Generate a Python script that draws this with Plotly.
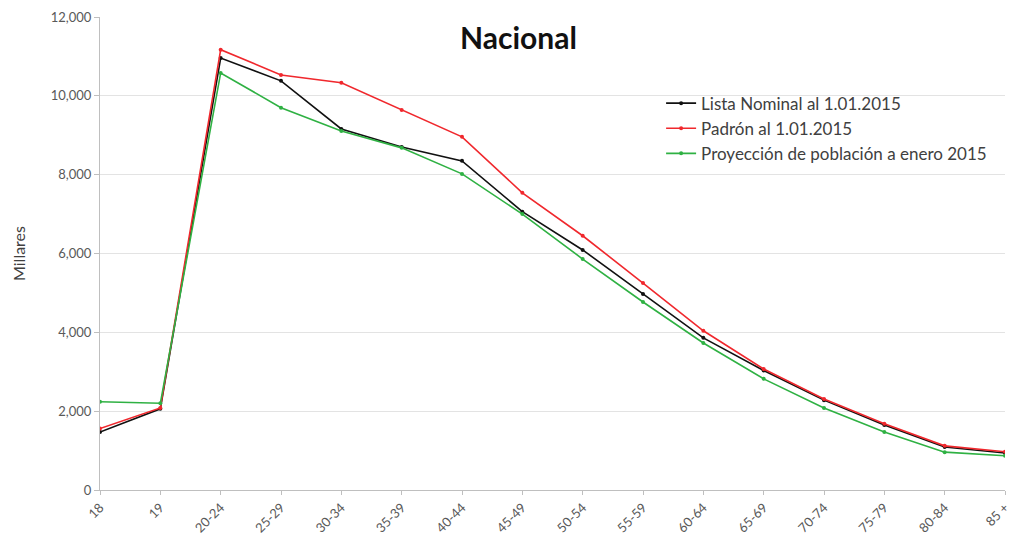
import plotly.graph_objects as go

categories = ["18", "19", "20-24", "25-29", "30-34", "35-39", "40-44", "45-49", "50-54",
              "55-59", "60-64", "65-69", "70-74", "75-79", "80-84", "85 +"]
lista_nominal = [1470, 2060, 10960, 10380, 9160, 8700, 8350, 7060, 6090, 4970, 3860, 3030, 2280, 1650, 1090, 940]
padron = [1560, 2080, 11170, 10530, 10330, 9640, 8960, 7540, 6450, 5250, 4040, 3070, 2310, 1680, 1120, 970]
proyeccion = [2240, 2200, 10580, 9700, 9110, 8680, 8020, 7000, 5860, 4770, 3730, 2820, 2080, 1470, 960, 870]

series_names = ["Lista Nominal al 1.01.2015", "Padrón al 1.01.2015", "Proyección de población a enero 2015"]
series_values = [lista_nominal, padron, proyeccion]
series_colors = ["#111111", "#f0282d", "#2fb143"]
y_ticks = [0, 2000, 4000, 6000, 8000, 10000, 12000]

fig = go.Figure()
for name, vals, col in zip(series_names, series_values, series_colors):
    fig.add_trace(go.Scatter(
        x=categories, y=vals, name=name, mode="lines+markers",
        line=dict(color=col, width=1.6),
        marker=dict(color=col, size=4),
    ))

fig.update_layout(
    width=1011, height=539,
    margin=dict(l=100, r=6, t=17, b=49, autoexpand=False),
    paper_bgcolor="white", plot_bgcolor="white",
    font=dict(family="Lato, Open Sans, sans-serif", size=12, color="#595959"),
    showlegend=True,
    legend=dict(x=0.62, y=0.855, xanchor="left", yanchor="top",
                bgcolor="rgba(0,0,0,0)", font=dict(size=17, color="#404040"),
                tracegroupgap=0, itemwidth=30),
    annotations=[dict(text="<b>Nacional</b>", x=0.462, y=0.958, xref="paper", yref="paper",
                      xanchor="center", yanchor="middle",
                      showarrow=False, font=dict(size=30, color="#111111"))],
)
fig.update_xaxes(
    type="category", range=[0, 15], tickangle=-45, automargin=False,
    showline=True, linecolor="#bfbfbf", linewidth=1,
    ticks="outside", ticklen=4, tickcolor="#bfbfbf",
    showgrid=False, tickfont=dict(size=13, color="#595959"),
)
fig.update_yaxes(
    range=[0, 12000], tickvals=y_ticks, tickformat=",", automargin=False,
    showline=True, linecolor="#bfbfbf", linewidth=1,
    ticks="outside", ticklen=5, tickcolor="#bfbfbf",
    showgrid=True, gridcolor="#e3e3e3", gridwidth=1, zeroline=False,
    title=dict(text="Millares", font=dict(size=16, color="#404040"), standoff=21),
    tickfont=dict(size=13, color="#595959"),
)

# Remove the browser's default page margin so the figure fills the window.
fig.write_html("out.html", config={"displayModeBar": False},
               post_script="document.body.style.margin='0';document.body.style.overflow='hidden';")
